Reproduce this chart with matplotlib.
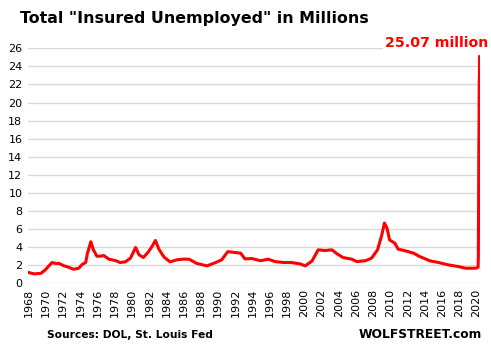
import matplotlib
matplotlib.use("Agg")
import matplotlib.pyplot as plt

# values (year, millions insured unemployed)
years = [1968.0, 1968.6, 1969.4, 1969.9, 1970.4, 1970.7, 1971.1, 1971.5, 1972.1, 1972.6,
         1973.2, 1973.8, 1974.2, 1974.6, 1974.8, 1975.2, 1975.5, 1975.9, 1976.3, 1976.7,
         1977.3, 1978.1, 1978.6, 1979.2, 1979.8, 1980.4, 1980.8, 1981.3, 1981.9, 1982.3,
         1982.7, 1983.1, 1983.7, 1984.4, 1985.2, 1985.9, 1986.6, 1987.5, 1988.7, 1989.7,
         1990.4, 1991.1, 1992.0, 1992.6, 1993.1, 1993.9, 1994.9, 1995.8, 1996.6, 1997.6,
         1998.5, 1999.5, 2000.1, 2000.9, 2001.6, 2002.4, 2003.2, 2003.8, 2004.5, 2005.5,
         2006.1, 2007.1, 2007.8, 2008.5, 2009.0, 2009.3, 2009.6, 2009.9, 2010.5, 2010.9,
         2011.7, 2012.7, 2013.4, 2014.6, 2015.6, 2016.7, 2017.9, 2018.7, 2019.9, 2020.18,
         2020.21, 2020.23, 2020.25, 2020.27, 2020.29, 2020.31, 2020.33, 2020.35]
insured = [1.19, 1.04, 1.10, 1.48, 2.0, 2.3, 2.2, 2.2, 1.93, 1.78,
           1.55, 1.67, 2.1, 2.3, 3.3, 4.6, 3.7, 3.0, 3.0, 3.07,
           2.67, 2.5, 2.3, 2.37, 2.78, 3.96, 3.15, 2.85, 3.5, 4.07,
           4.74, 3.78, 2.9, 2.37, 2.6, 2.67, 2.67, 2.2, 1.93, 2.3,
           2.6, 3.5, 3.4, 3.33, 2.7, 2.74, 2.5, 2.67, 2.4, 2.3,
           2.3, 2.15, 1.93, 2.48, 3.7, 3.63, 3.7, 3.26, 2.85, 2.67,
           2.4, 2.5, 2.78, 3.7, 5.37, 6.67, 6.1, 4.8, 4.44, 3.78,
           3.6, 3.33, 2.96, 2.48, 2.3, 2.04, 1.85, 1.67, 1.67, 1.78,
           3.0, 7.4, 11.9, 15.8, 18.0, 22.4, 22.8, 25.07]

year_ticks = list(range(1968, 2021, 2))
y_ticks = list(range(0, 27, 2))

fig = plt.figure(figsize=(4.91, 3.51), dpi=100)
ax = fig.add_axes([28 / 491, 1 - 283.3 / 351, 452 / 491, 235 / 351])

ax.plot(years, insured, color="#FF0000", linewidth=2.2, solid_joinstyle="round")

ax.set_xlim(1967.9, 2020.4)
ax.set_ylim(0, 26)
ax.set_xticks(year_ticks)
ax.set_xticklabels([str(y) for y in year_ticks], rotation=90, fontsize=8)
ax.set_yticks(y_ticks)
ax.set_yticklabels([str(v) for v in y_ticks], fontsize=8)
ax.tick_params(length=0, pad=4)
ax.grid(axis="y", color="#d9d9d9", linewidth=1)
ax.set_axisbelow(True)
for s in ax.spines.values():
    s.set_visible(False)

fig.text(20 / 491, 1 - 18 / 351, 'Total "Insured Unemployed" in Millions',
         fontsize=11.4, fontweight="bold", va="center", ha="left")
fig.text(488 / 491, 1 - 43 / 351, "25.07 million", color="#FF0000",
         fontsize=10.2, fontweight="bold", va="center", ha="right",
         bbox=dict(facecolor="white", edgecolor="none", pad=1))
fig.text(47 / 491, 1 - 335 / 351, "Sources: DOL, St. Louis Fed",
         fontsize=7.7, fontweight="bold", va="center", ha="left")
fig.text(482 / 491, 1 - 335 / 351, "WOLFSTREET.com",
         fontsize=8.8, fontweight="bold", va="center", ha="right")

fig.savefig("out.png", dpi=100)
